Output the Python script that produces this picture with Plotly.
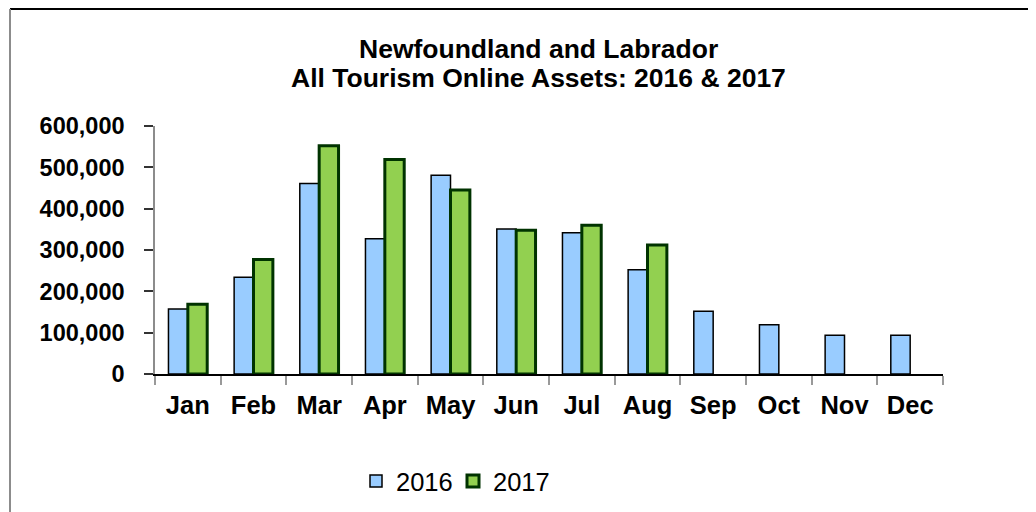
import plotly.graph_objects as go

months = ["Jan", "Feb", "Mar", "Apr", "May", "Jun", "Jul", "Aug", "Sep", "Oct", "Nov", "Dec"]
values_2016 = [157000, 234000, 461000, 327000, 481000, 351000, 342000, 252000, 152000, 119000, 94000, 94000]
values_2017 = [169000, 277000, 552000, 519000, 445000, 348000, 360000, 312000, None, None, None, None]
y_ticks = [0, 100000, 200000, 300000, 400000, 500000, 600000]
title_lines = ["Newfoundland and Labrador", "All Tourism Online Assets: 2016 & 2017"]

# The page body has an 8px default margin: the figure starts at screen (8, 8).
OFF = 8
SCR_W, SCR_H = 1036, 512
W, H = SCR_W - OFF, SCR_H - OFF
# plot area in screen pixels
PX0, PX1, PY0, PY1 = 155, 943, 126, 374
L, R, T, B = PX0 - OFF, SCR_W - PX1, PY0 - OFF, SCR_H - PY1
PW, PH = PX1 - PX0, PY1 - PY0


def px(x):
    return (x - PX0) / PW


def py(y):
    return (PY1 - y) / PH


FONT = "Liberation Sans, Arial, sans-serif"

fig = go.Figure()
fig.add_trace(go.Bar(
    name="2016", x=months, y=values_2016,
    marker=dict(color="#99CCFF", line=dict(color="#000000", width=1.5)),
))
fig.add_trace(go.Bar(
    name="2017", x=months, y=values_2017,
    marker=dict(color="#92D050", line=dict(color="#003300", width=3)),
))

fig.update_layout(
    width=W, height=H,
    margin=dict(l=L, r=R, t=T, b=B, pad=0, autoexpand=False),
    paper_bgcolor="white", plot_bgcolor="white",
    barmode="group", bargap=0.41, bargroupgap=0,
    font=dict(family=FONT, color="#000000"),
    showlegend=True,
    legend=dict(
        orientation="h", x=px(356), xanchor="left", y=py(458), yanchor="top",
        font=dict(family=FONT, size=25.5, color="#000000"),
        bgcolor="rgba(0,0,0,0)", entrywidth=52, itemwidth=30,
    ),
    xaxis=dict(
        type="category", range=[-0.5, 11.5], automargin=False,
        showline=True, linecolor="#000000", linewidth=1.5,
        ticks="outside", ticklen=9, tickwidth=1.5, tickcolor="#999999",
        tickson="boundaries", showgrid=False, zeroline=False,
        tickfont=dict(family=FONT, size=25.5, color="#000000", weight="bold"),
        ticklabelstandoff=8,
    ),
    xaxis2=dict(
        overlaying="x", anchor="y", range=[-0.5, 11.5], tick0=-0.5, dtick=1,
        ticks="inside", ticklen=8, tickwidth=1.5, tickcolor="#999999",
        showticklabels=False, showgrid=False, zeroline=False, showline=False,
    ),
    yaxis=dict(
        range=[0, 600000], tickvals=y_ticks, tickformat=",d", automargin=False,
        showline=True, linecolor="#8c8c8c", linewidth=1.5,
        ticks="outside", ticklen=9, tickwidth=1.5, tickcolor="#333333",
        showgrid=False, zeroline=False,
        tickfont=dict(family=FONT, size=23.5, color="#000000", weight="bold"),
        ticklabelstandoff=15,
    ),
    yaxis2=dict(
        overlaying="y", anchor="x", range=[0, 600000], tickvals=y_ticks,
        ticks="inside", ticklen=8, tickwidth=1.5, tickcolor="#333333",
        showticklabels=False, showgrid=False, zeroline=False, showline=False,
    ),
)

# two-line bold title
for text, yc in zip(title_lines, [49, 78]):
    fig.add_annotation(
        text=text, xref="paper", yref="paper", x=px(538), y=py(yc),
        xanchor="center", yanchor="middle", showarrow=False,
        font=dict(family=FONT, size=26.5, color="#000000", weight="bold"),
    )

# chart frame
shapes = [
    dict(type="line", xref="paper", yref="paper", x0=px(10), x1=px(1034), y0=py(9), y1=py(9),
         line=dict(color="#000000", width=2)),
    dict(type="line", xref="paper", yref="paper", x0=px(10), x1=px(10), y0=py(9), y1=py(530),
         line=dict(color="#8c8c8c", width=2)),
    dict(type="line", xref="paper", yref="paper", x0=px(1034), x1=px(1034), y0=py(9), y1=py(530),
         line=dict(color="#8c8c8c", width=2)),
]
fig.update_layout(shapes=shapes)

fig.write_html("out.html")
